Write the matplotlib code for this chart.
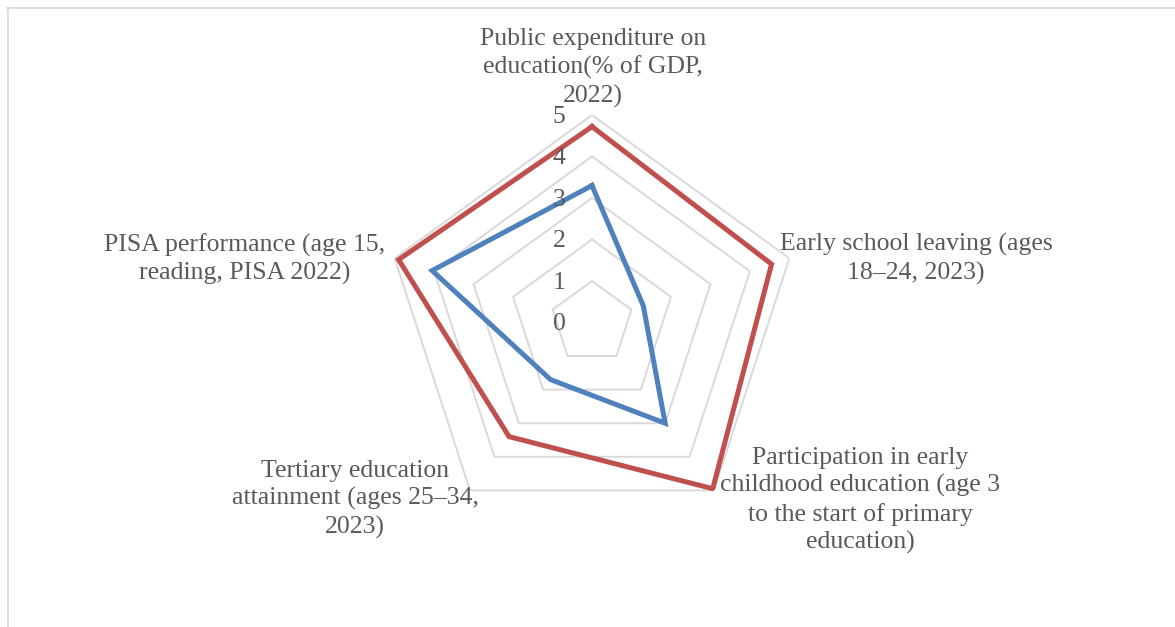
import numpy as np
import matplotlib
matplotlib.use("Agg")
import matplotlib.pyplot as plt
import matplotlib.transforms as mtransforms
from matplotlib.lines import Line2D

categories = [
    "Public expenditure on\neducation(% of GDP,\n2022)",
    "Early school leaving (ages\n18–24, 2023)",
    "Participation in early\nchildhood education (age 3\nto the start of primary\neducation)",
    "Tertiary education\nattainment (ages 25–34,\n2023)",
    "PISA performance (age 15,\nreading, PISA 2022)",
]
series_blue = [3.3, 1.3, 3.0, 1.7, 4.05]
series_red = [4.72, 4.55, 4.95, 3.4, 4.9]
ticks = [0, 1, 2, 3, 4, 5]

W, H = 1175, 627
fig = plt.figure(figsize=(W / 100, H / 100), dpi=100)
fig.patch.set_facecolor("white")

cx, cy, R = 592, 322.5, 207.5
ax = fig.add_axes([(cx - R) / W, (H - cy - R) / H, 2 * R / W, 2 * R / H],
                  projection="polar")
ax.set_theta_offset(np.pi / 2)
ax.set_theta_direction(-1)
ax.set_ylim(0, 5)
ax.grid(False)
ax.spines["polar"].set_visible(False)
ax.set_xticks([])
ax.set_yticks([])
ax.patch.set_alpha(0)

n = len(categories)
angles = np.linspace(0, 2 * np.pi, n, endpoint=False)
ang_c = np.concatenate([angles, angles[:1]])

grid_col = "#d9d9d9"
for t in ticks[1:]:
    ax.plot(ang_c, [t] * (n + 1), color=grid_col, lw=1.4, zorder=1)

for vals, col in [(series_blue, "#4f81bd"), (series_red, "#c0504d")]:
    v = list(vals) + [vals[0]]
    ax.plot(ang_c, v, color=col, lw=3.6, zorder=3, solid_joinstyle="miter")

txt_col = "#595959"
font = "Liberation Serif"
off = mtransforms.offset_copy(ax.transData, fig=fig, x=-33, y=-2, units="dots")
for t in ticks:
    ax.text(0, t, str(t), transform=off, ha="center", va="center",
            fontsize=18.5, color=txt_col, family=font, zorder=4)

label_pos = [(593, 68), (916, 259), (860, 500.5), (355, 499.5), (245, 259)]
for lab, (x, y) in zip(categories, label_pos):
    fig.text(x / W, 1 - y / H, lab, ha="center", va="center",
             multialignment="center", fontsize=18.5, color=txt_col,
             family=font, linespacing=1.3)

fig.add_artist(Line2D([7 / W, 1], [1 - 8 / H, 1 - 8 / H], color=grid_col,
                      lw=1.2, transform=fig.transFigure))
fig.add_artist(Line2D([7.5 / W, 7.5 / W], [0, 1 - 8 / H], color=grid_col,
                      lw=1.2, transform=fig.transFigure))

fig.savefig("out.png", dpi=100, facecolor="white")
